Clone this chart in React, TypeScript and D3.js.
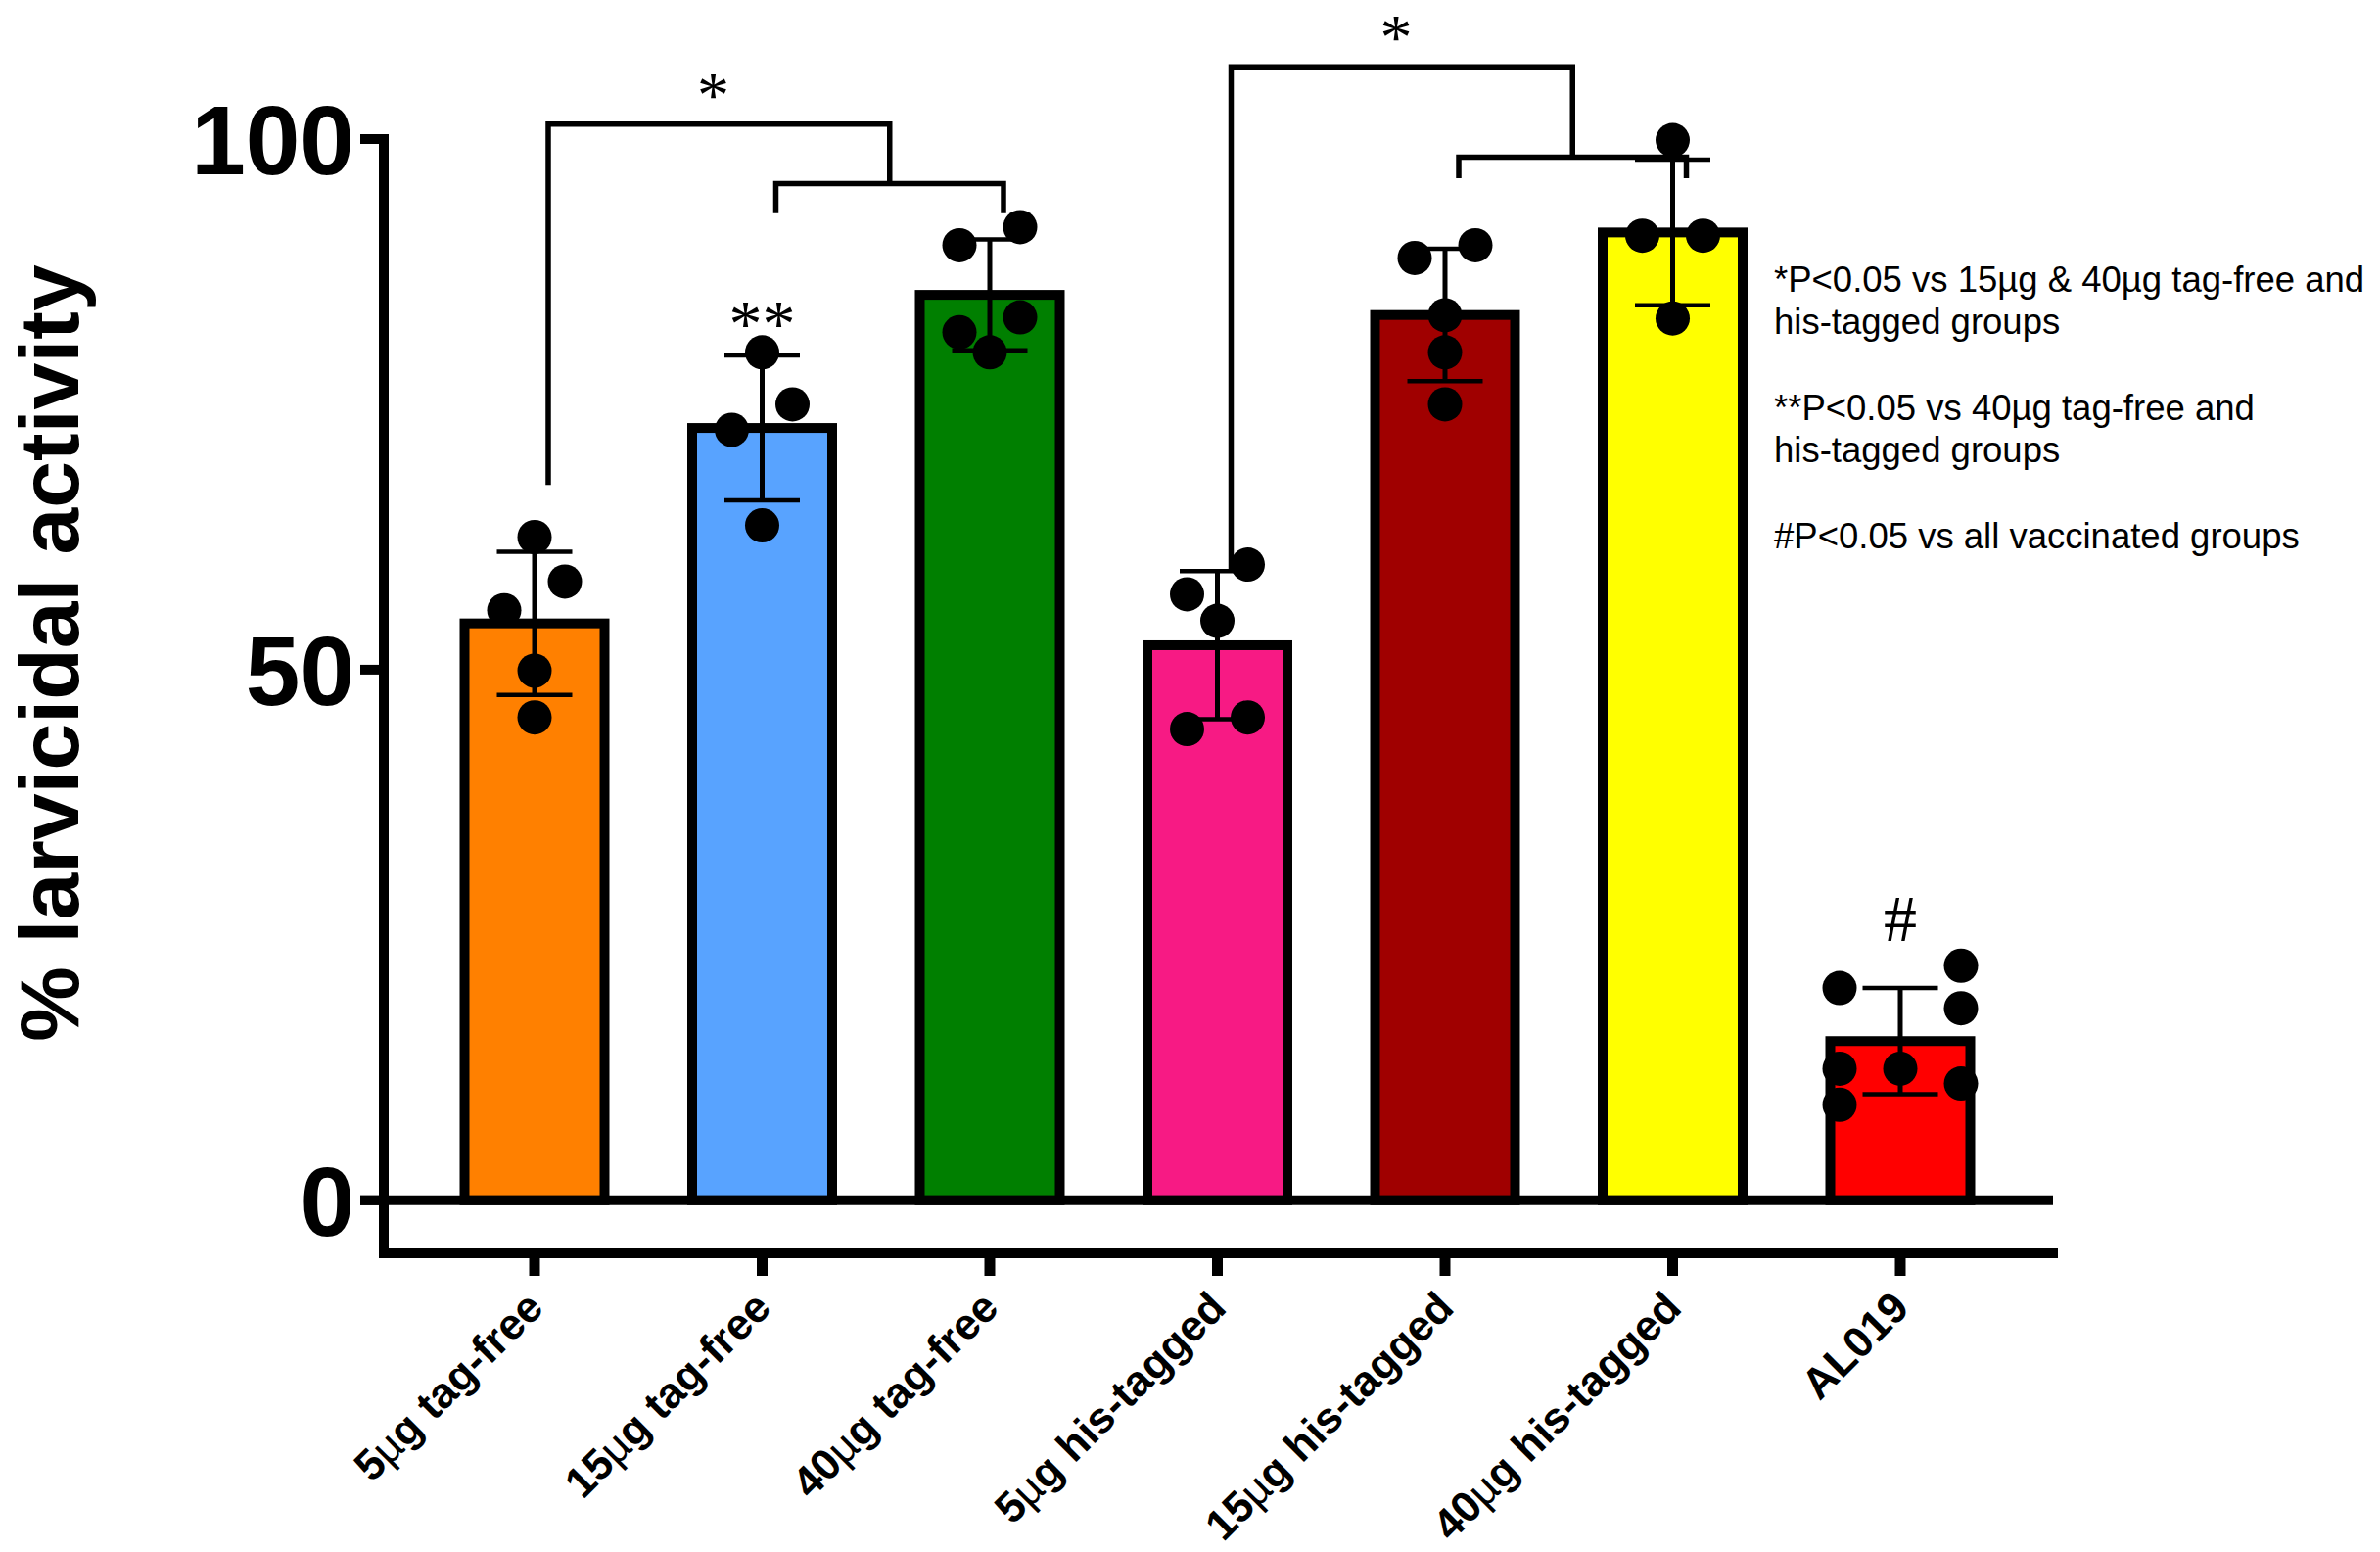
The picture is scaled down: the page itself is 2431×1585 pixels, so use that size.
import { useEffect } from 'react';
import * as d3 from 'd3';

// group names, in plotting order
const groups = [
  '5µg tag-free',
  '15µg tag-free',
  '40µg tag-free',
  '5µg his-tagged',
  '15µg his-tagged',
  '40µg his-tagged',
  'AL019',
];

// individual animals, % larvicidal activity
const tagFree5 = [62.5, 58.3, 55.6, 49.9, 45.5];
const tagFree15 = [79.9, 75.0, 72.6, 63.6];
const tagFree40 = [91.7, 90.0, 83.2, 81.8, 79.9];
const hisTagged5 = [59.9, 57.1, 54.6, 45.5, 44.4];
const hisTagged15 = [90.0, 88.8, 83.4, 79.9, 75.0];
const hisTagged40 = [99.9, 90.9, 90.9, 83.1];
const al019 = [22.1, 20.0, 18.1, 12.4, 12.4, 11.0, 9.0];

const groupValues = [tagFree5, tagFree15, tagFree40, hisTagged5, hisTagged15, hisTagged40, al019];

const barColors = ['#FF8000', '#58A3FF', '#007F00', '#F71A84', '#A00000', '#FFFF00', '#FF0000'];

const yTicks = [0, 50, 100];

// comparison brackets (heights in % units)
const brackets = [
  { from: '5µg tag-free', to: ['15µg tag-free', '40µg tag-free'], base: 67.4, top: 101.4, sub: 95.8, drop: 93.0, mark: '*' },
  { from: '5µg his-tagged', to: ['15µg his-tagged', '40µg his-tagged'], base: 59.3, top: 106.8, sub: 98.3, drop: 96.3, mark: '*' },
];

const groupMarks = [
  { group: '15µg tag-free', mark: '**' },
  { group: 'AL019', mark: '#' },
];

const notes = [
  ['*P<0.05 vs 15µg & 40µg tag-free and', 'his-tagged groups'],
  ['**P<0.05 vs 40µg tag-free and', 'his-tagged groups'],
  ['#P<0.05 vs all vaccinated groups'],
];

const W = 2431;
const H = 1585;
const SANS = '"Liberation Sans", Arial, Helvetica, sans-serif';
const SERIF = '"Liberation Serif", "Times New Roman", serif';

// spread overlapping dots sideways, row by row (scatter-on-bar style)
function spread(ys: number[], gap: number, step: number) {
  const order = d3.range(ys.length).sort((a, b) => ys[a] - ys[b]);
  const rows: number[][] = [];
  order.forEach(idx => {
    const last = rows[rows.length - 1];
    if (last && ys[idx] - ys[last[0]] < gap) last.push(idx);
    else rows.push([idx]);
  });
  const maxK = d3.max(rows, rw => rw.length) as number;
  const unit = maxK >= 3 ? step : step / 2;
  const offsets = new Array(ys.length).fill(0);
  let lastSide = -1;
  rows.forEach(rw => {
    const k = rw.length;
    if (k === 1) {
      offsets[rw[0]] = maxK >= 3 ? -lastSide * unit : 0;
    } else if (k === 2) {
      offsets[rw[0]] = unit;
      offsets[rw[1]] = -unit;
    } else {
      rw.forEach((idx, i) => { offsets[idx] = (i - (k - 1) / 2) * unit; });
    }
    const o = offsets[rw[k - 1]];
    if (o !== 0) lastSide = Math.sign(o);
  });
  return offsets;
}

function MicroText({ text }: { text: string }) {
  const parts = text.split('µ');
  return (
    <>
      {parts.map((p, i) => (
        <tspan key={i}>
          {i > 0 && <tspan fontWeight="normal">µ</tspan>}
          {p}
        </tspan>
      ))}
    </>
  );
}

export default function App() {
  useEffect(() => {
    document.body.style.margin = '0';
    document.body.style.overflow = 'hidden';
  }, []);

  const y = d3.scaleLinear().domain([-5, 100]).range([1280, 142]);
  const x = d3.scalePoint<string>().domain(groups).range([546, 1941]);
  const barW = 143;
  const capW = 77;
  const r = 17.5;
  const legShift = 14;

  const stats = groupValues.map(v => ({
    mean: d3.mean(v) as number,
    sd: d3.deviation(v) as number,
  }));

  const axisLeft = 392;
  const axisRight = 2097;

  return (
    <svg width={W} height={H} viewBox={`0 0 ${W} ${H}`} style={{ display: 'block', background: '#fff' }}>
      {/* bars */}
      {groups.map((g, i) => (
        <rect
          key={g}
          x={(x(g) as number) - barW / 2}
          y={y(stats[i].mean)}
          width={barW}
          height={y(0) - y(stats[i].mean)}
          fill={barColors[i]}
          stroke="#000"
          strokeWidth={10}
        />
      ))}

      {/* error bars (mean ± SD) */}
      {groups.map((g, i) => {
        const cx = x(g) as number;
        const hi = y(stats[i].mean + stats[i].sd);
        const lo = y(stats[i].mean - stats[i].sd);
        return (
          <g key={g} stroke="#000">
            <line x1={cx} x2={cx} y1={hi} y2={lo} strokeWidth={5} />
            <line x1={cx - capW / 2} x2={cx + capW / 2} y1={hi} y2={hi} strokeWidth={4.5} />
            <line x1={cx - capW / 2} x2={cx + capW / 2} y1={lo} y2={lo} strokeWidth={4.5} />
          </g>
        );
      })}

      {/* individual points */}
      {groups.map((g, i) => {
        const cx = x(g) as number;
        const ys = groupValues[i].map(v => y(v));
        const offs = spread(ys, 2 * r - 1, 62);
        return (
          <g key={g}>
            {ys.map((yy, j) => (
              <circle key={j} cx={cx + offs[j]} cy={yy} r={r} fill="#000" />
            ))}
          </g>
        );
      })}

      {/* zero line */}
      <line x1={368} x2={axisRight} y1={y(0)} y2={y(0)} stroke="#000" strokeWidth={10} />

      {/* y axis */}
      <line x1={axisLeft} x2={axisLeft} y1={y(100)} y2={y(-5)} stroke="#000" strokeWidth={10} strokeLinecap="square" />
      {yTicks.map(t => (
        <g key={t}>
          <line x1={368} x2={axisLeft} y1={y(t)} y2={y(t)} stroke="#000" strokeWidth={10} />
          <text
            x={362}
            y={y(t) + 36}
            textAnchor="end"
            fontFamily={SANS}
            fontWeight="bold"
            fontSize={100}
          >
            {t}
          </text>
        </g>
      ))}

      {/* x axis */}
      <line x1={axisLeft} x2={axisRight} y1={y(-5)} y2={y(-5)} stroke="#000" strokeWidth={10} strokeLinecap="square" />
      {groups.map(g => {
        const cx = x(g) as number;
        return (
          <g key={g}>
            <line x1={cx} x2={cx} y1={y(-5)} y2={y(-5) + 23} stroke="#000" strokeWidth={11} />
            <text
              transform={`translate(${cx + 11},${y(-5) + 58}) rotate(-45)`}
              textAnchor="end"
              fontFamily={SANS}
              fontWeight="bold"
              fontSize={44}
            >
              <MicroText text={g} />
            </text>
          </g>
        );
      })}

      {/* y axis title */}
      <text
        transform="translate(80,667) rotate(-90)"
        textAnchor="middle"
        fontFamily={SANS}
        fontWeight="bold"
        fontSize={86}
      >
        % larvicidal activity
      </text>

      {/* comparison brackets */}
      {brackets.map((b, i) => {
        const xl = (x(b.from) as number) + legShift;
        const xa = (x(b.to[0]) as number) + legShift;
        const xb = (x(b.to[1]) as number) + legShift;
        const xm = (xa + xb) / 2;
        const path = `M${xl},${y(b.base)} V${y(b.top)} H${xm} V${y(b.sub)}`;
        const sub = `M${xa},${y(b.drop)} V${y(b.sub)} H${xb} V${y(b.drop)}`;
        return (
          <g key={i}>
            <path d={path} fill="none" stroke="#000" strokeWidth={5.5} />
            <path d={sub} fill="none" stroke="#000" strokeWidth={5.5} />
            <text
              x={(xl + xm) / 2 - 6}
              y={y(b.top) - 8}
              textAnchor="middle"
              fontFamily={SERIF}
              fontSize={66}
            >
              {b.mark}
            </text>
          </g>
        );
      })}

      {/* group significance marks */}
      {groupMarks.map(m => {
        const i = groups.indexOf(m.group);
        const top = y(d3.max(groupValues[i]) as number) - r;
        const lift = m.mark.includes('*') ? 11 : -8;
        return (
          <text
            key={m.group}
            x={x(m.group) as number}
            y={top + lift}
            textAnchor="middle"
            fontFamily={SERIF}
            fontSize={68}
          >
            {m.mark}
          </text>
        );
      })}

      {/* notes */}
      {(() => {
        const lines: { text: string; y: number }[] = [];
        let yy = 298;
        notes.forEach(block => {
          block.forEach((t, k) => {
            lines.push({ text: t, y: yy });
            yy += k < block.length - 1 ? 43 : 0;
          });
          yy += 88;
        });
        return lines.map((l, k) => (
          <text key={k} x={1812} y={l.y} fontFamily={SANS} fontSize={36.5}>
            {l.text}
          </text>
        ));
      })()}
    </svg>
  );
}
